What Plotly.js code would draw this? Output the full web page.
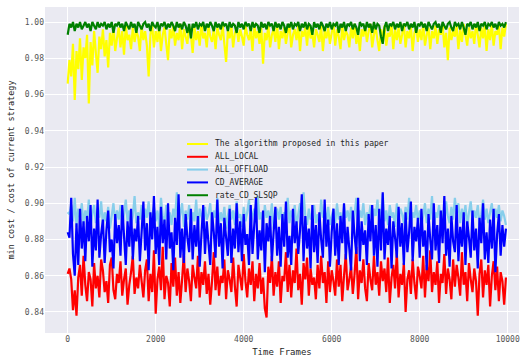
<!DOCTYPE html>
<html>
<head>
<meta charset="utf-8">
<script src="https://cdn.plot.ly/plotly-3.0.1.min.js"></script>
<style>html,body{margin:0;padding:0;background:#fff;}#chart{width:521px;height:360px;}</style>
</head>
<body>
<div id="chart"></div>
<script>
// Values read every 40 frames
var frameStep = 40;

var seriesNames = ["The algorithm proposed in this paper", "ALL_LOCAL", "ALL_OFFLOAD", "CD_AVERAGE", "rate_CD_SLSQP"];
var seriesColors = ["#FFFF00", "#FF0000", "#87CEEB", "#0000FF", "#008000"];

var xTicks = [0, 2000, 4000, 6000, 8000, 10000];
var yTicks = [0.84, 0.86, 0.88, 0.90, 0.92, 0.94, 0.96, 0.98, 1.00];
var yTickLabels = ["0.84", "0.86", "0.88", "0.90", "0.92", "0.94", "0.96", "0.98", "1.00"];

var algorithm = [
0.966,0.979,0.970,0.988,0.957,0.984,0.974,0.991,0.968,0.986,
0.980,0.993,0.955,0.989,0.976,0.995,0.983,0.972,0.992,0.985,
0.996,0.981,0.990,0.975,0.994,0.987,0.998,0.984,0.991,0.997,
0.986,0.995,0.982,0.998,0.990,0.993,0.985,0.997,0.989,0.995,
0.992,0.984,0.998,0.990,0.995,0.987,0.970,0.993,0.998,0.986,
0.995,0.989,0.998,0.984,0.993,0.997,0.988,0.979,0.996,0.991,
0.998,0.987,0.994,0.990,0.999,0.985,0.996,0.992,0.988,0.998,
0.993,0.983,0.997,0.990,0.995,0.987,0.999,0.991,0.994,0.986,
0.998,0.992,0.989,0.996,0.985,0.997,0.993,0.990,0.999,0.988,
0.978,0.995,0.991,0.998,0.986,0.994,0.997,0.989,0.996,0.992,
0.987,0.998,0.993,0.990,0.996,0.984,0.999,0.991,0.995,0.988,
0.997,0.977,0.994,0.990,0.998,0.986,0.993,0.996,0.989,0.999,
0.985,0.995,0.991,0.997,0.988,0.994,0.999,0.986,0.993,0.996,
0.990,0.998,0.984,0.995,0.992,0.997,0.987,0.999,0.991,0.994,
0.986,0.996,0.993,0.989,0.998,0.984,0.995,0.991,0.997,0.988,
0.994,0.999,0.987,0.996,0.992,0.985,0.998,0.990,0.995,0.993,
0.986,0.997,0.991,0.999,0.988,0.994,0.984,0.996,0.992,0.998,
0.989,0.995,0.999,0.986,0.993,0.997,0.990,0.984,0.996,0.991,
0.998,0.987,0.994,0.992,0.999,0.985,0.996,0.990,0.997,0.988,
0.993,0.999,0.986,0.995,0.991,0.998,0.984,0.994,0.997,0.989,
0.996,0.990,0.999,0.987,0.993,0.997,0.985,0.995,0.991,0.998,
0.988,0.996,0.993,0.999,0.986,0.994,0.979,0.997,0.990,0.995,
0.992,0.998,0.985,0.996,0.989,0.999,0.993,0.987,0.997,0.991,
0.995,0.988,0.999,0.993,0.986,0.997,0.991,0.998,0.984,0.996,
0.990,0.999,0.987,0.995,0.993,0.998,0.985,0.997,0.992,0.999
];

var allLocal = [
0.861,0.864,0.858,0.841,0.852,0.838,0.859,0.866,0.849,0.871,
0.855,0.846,0.862,0.858,0.843,0.867,0.853,0.860,0.848,0.869,
0.863,0.851,0.857,0.845,0.866,0.870,0.852,0.847,0.861,0.856,
0.868,0.849,0.858,0.864,0.844,0.855,0.862,0.871,0.850,0.859,
0.853,0.866,0.857,0.848,0.863,0.869,0.846,0.861,0.851,0.874,
0.839,0.858,0.865,0.852,0.876,0.847,0.860,0.856,0.843,0.867,
0.854,0.870,0.849,0.862,0.845,0.858,0.872,0.851,0.864,0.857,
0.846,0.866,0.859,0.853,0.871,0.848,0.862,0.855,0.868,0.850,
0.861,0.844,0.857,0.873,0.852,0.865,0.849,0.860,0.856,0.869,
0.847,0.863,0.858,0.851,0.870,0.854,0.843,0.866,0.859,0.852,
0.872,0.857,0.848,0.864,0.855,0.868,0.846,0.861,0.853,0.867,
0.850,0.859,0.842,0.837,0.865,0.856,0.871,0.849,0.862,0.854,
0.868,0.845,0.860,0.857,0.873,0.851,0.866,0.848,0.863,0.856,
0.875,0.852,0.861,0.844,0.867,0.858,0.870,0.849,0.864,0.855,
0.859,0.847,0.866,0.853,0.871,0.856,0.862,0.845,0.868,0.851,
0.863,0.857,0.849,0.869,0.854,0.866,0.846,0.860,0.872,0.852,
0.858,0.865,0.850,0.861,0.876,0.847,0.863,0.856,0.869,0.853,
0.846,0.867,0.858,0.852,0.871,0.855,0.862,0.849,0.868,0.857,
0.864,0.851,0.870,0.845,0.859,0.866,0.853,0.873,0.848,0.861,
0.855,0.867,0.840,0.858,0.863,0.850,0.869,0.856,0.847,0.865,
0.860,0.853,0.871,0.848,0.866,0.857,0.874,0.851,0.862,0.855,
0.868,0.845,0.861,0.856,0.872,0.850,0.864,0.858,0.847,0.869,
0.854,0.866,0.859,0.849,0.873,0.855,0.862,0.846,0.867,0.858,
0.851,0.864,0.857,0.838,0.861,0.869,0.848,0.863,0.855,0.866,
0.843,0.860,0.868,0.852,0.865,0.846,0.862,0.857,0.844,0.859
];

var allOffload = [
0.895,0.894,0.899,0.890,0.903,0.887,0.897,0.892,0.900,0.888,
0.896,0.891,0.902,0.887,0.894,0.899,0.889,0.897,0.892,0.901,
0.888,0.895,0.890,0.898,0.886,0.893,0.900,0.889,0.896,0.891,
0.899,0.887,0.894,0.902,0.890,0.896,0.888,0.893,0.904,0.889,
0.895,0.891,0.899,0.886,0.897,0.892,0.901,0.888,0.894,0.898,
0.890,0.896,0.887,0.903,0.893,0.889,0.899,0.891,0.895,0.888,
0.897,0.892,0.906,0.889,0.894,0.900,0.887,0.896,0.891,0.899,
0.888,0.895,0.890,0.902,0.886,0.897,0.893,0.889,0.898,0.891,
0.894,0.900,0.887,0.896,0.892,0.903,0.889,0.895,0.890,0.898,
0.886,0.893,0.899,0.891,0.896,0.888,0.901,0.892,0.894,0.887,
0.898,0.890,0.895,0.902,0.888,0.893,0.897,0.889,0.904,0.891,
0.895,0.887,0.899,0.892,0.896,0.890,0.900,0.886,0.894,0.897,
0.891,0.898,0.888,0.895,0.893,0.903,0.889,0.896,0.892,0.899,
0.887,0.894,0.900,0.890,0.906,0.893,0.888,0.897,0.891,0.895,
0.899,0.889,0.894,0.887,0.902,0.892,0.896,0.890,0.898,0.888,
0.893,0.897,0.889,0.900,0.891,0.895,0.887,0.899,0.892,0.896,
0.890,0.898,0.886,0.894,0.903,0.889,0.896,0.892,0.900,0.888,
0.895,0.891,0.899,0.887,0.897,0.893,0.902,0.889,0.894,0.905,
0.890,0.896,0.888,0.899,0.892,0.895,0.887,0.900,0.891,0.897,
0.894,0.889,0.898,0.891,0.903,0.887,0.895,0.892,0.899,0.890,
0.896,0.888,0.893,0.900,0.889,0.897,0.891,0.904,0.887,0.895,
0.892,0.899,0.890,0.896,0.888,0.901,0.893,0.889,0.898,0.891,
0.903,0.894,0.900,0.889,0.897,0.892,0.899,0.887,0.895,0.901,
0.890,0.896,0.892,0.899,0.888,0.894,0.902,0.891,0.897,0.889,
0.895,0.900,0.888,0.897,0.892,0.899,0.890,0.896,0.893,0.888
];

var cdAverage = [
0.884,0.881,0.903,0.872,0.860,0.889,0.866,0.897,0.875,0.890,
0.868,0.893,0.879,0.899,0.865,0.886,0.874,0.902,0.870,0.883,
0.891,0.867,0.885,0.896,0.873,0.880,0.864,0.894,0.878,0.888,
0.871,0.899,0.882,0.866,0.890,0.876,0.897,0.869,0.886,0.879,
0.893,0.868,0.884,0.901,0.874,0.889,0.863,0.895,0.880,0.904,
0.872,0.887,0.866,0.898,0.878,0.891,0.869,0.900,0.875,0.884,
0.863,0.892,0.877,0.905,0.870,0.886,0.867,0.894,0.881,0.873,
0.897,0.869,0.888,0.876,0.893,0.865,0.883,0.899,0.872,0.890,
0.878,0.866,0.895,0.884,0.870,0.902,0.876,0.889,0.864,0.892,
0.881,0.871,0.897,0.867,0.886,0.875,0.900,0.873,0.890,0.868,
0.894,0.877,0.883,0.866,0.899,0.872,0.888,0.903,0.869,0.885,
0.874,0.896,0.862,0.889,0.879,0.893,0.868,0.884,0.898,0.871,
0.887,0.865,0.894,0.876,0.901,0.870,0.882,0.866,0.897,0.878,
0.890,0.872,0.885,0.905,0.868,0.893,0.875,0.886,0.864,0.899,
0.873,0.888,0.867,0.895,0.880,0.870,0.902,0.876,0.891,0.865,
0.884,0.897,0.871,0.889,0.866,0.893,0.878,0.900,0.869,0.887,
0.875,0.863,0.896,0.882,0.872,0.903,0.868,0.890,0.877,0.885,
0.866,0.894,0.879,0.899,0.871,0.888,0.865,0.897,0.874,0.906,
0.869,0.886,0.877,0.893,0.864,0.890,0.881,0.870,0.898,0.876,
0.889,0.866,0.895,0.873,0.884,0.901,0.868,0.887,0.879,0.892,
0.870,0.897,0.876,0.885,0.863,0.894,0.880,0.869,0.900,0.874,
0.888,0.867,0.896,0.878,0.904,0.871,0.886,0.865,0.893,0.879,
0.873,0.899,0.868,0.887,0.876,0.895,0.866,0.890,0.881,0.870,
0.896,0.874,0.886,0.864,0.892,0.878,0.900,0.869,0.884,0.867,
0.891,0.875,0.897,0.862,0.883,0.894,0.871,0.888,0.876,0.886
];

var rateCdSlsqp = [
0.993,0.999,0.997,1.000,0.995,0.999,0.997,1.000,0.996,0.998,
1.000,0.997,0.999,0.995,1.000,0.998,0.996,1.000,0.997,0.999,
0.998,1.000,0.996,0.999,0.997,1.000,0.994,0.999,0.998,1.000,
0.997,0.999,0.995,1.000,0.998,0.996,1.000,0.997,0.999,0.994,
1.000,0.998,0.996,0.999,1.000,0.997,0.999,0.995,1.000,0.998,
0.997,1.000,0.995,0.999,0.998,1.000,0.996,0.999,0.997,1.000,
0.998,0.995,1.000,0.997,0.999,0.996,1.000,0.998,0.994,0.999,
0.991,0.999,0.997,1.000,0.996,0.999,0.998,1.000,0.995,0.999,
0.997,1.000,0.998,0.995,1.000,0.997,0.999,0.996,1.000,0.998,
0.999,0.995,1.000,0.997,0.999,0.998,0.994,1.000,0.997,0.999,
0.996,1.000,0.998,0.999,0.995,1.000,0.997,0.999,0.998,0.994,
1.000,0.997,0.999,0.996,1.000,0.998,0.999,0.995,1.000,0.997,
0.999,0.996,1.000,0.998,0.994,0.999,0.997,1.000,0.996,0.999,
0.998,1.000,0.995,0.999,0.997,1.000,0.996,0.999,0.998,0.993,
1.000,0.997,0.999,0.996,1.000,0.998,0.995,0.999,0.997,1.000,
0.996,0.999,0.998,1.000,0.994,0.999,0.997,1.000,0.995,0.999,
0.998,1.000,0.996,0.999,0.997,0.993,1.000,0.998,0.999,0.995,
1.000,0.997,0.999,0.994,1.000,0.996,0.999,0.998,0.992,0.988,
0.997,1.000,0.995,0.999,0.998,1.000,0.996,0.999,0.997,1.000,
0.995,0.999,0.998,1.000,0.996,0.999,0.997,1.000,0.994,0.999,
0.998,1.000,0.997,0.999,0.995,1.000,0.998,0.996,0.999,1.000,
0.997,0.999,0.994,1.000,0.998,0.996,0.999,1.000,0.997,0.995,
1.000,0.998,0.999,0.996,1.000,0.997,0.993,0.999,0.998,1.000,
0.996,0.999,0.997,1.000,0.995,0.999,0.998,1.000,0.996,0.999,
0.998,1.000,0.997,0.999,0.996,1.000,0.998,0.999,0.997,1.000
];

var seriesValues = [algorithm, allLocal, allOffload, cdAverage, rateCdSlsqp];

var frames = algorithm.map(function (_, i) { return i * frameStep; });

var traces = seriesValues.map(function (vals, k) {
  return {
    x: frames,
    y: vals,
    type: "scatter",
    mode: "lines",
    name: seriesNames[k],
    showlegend: false,
    line: { color: seriesColors[k], width: 2.2, simplify: false }
  };
});

var monoFont = "DejaVu Sans Mono, monospace";

// Legend drawn in the plot area (transparent, like the reference)
var legendX0 = 0.2996, legendX1 = 0.3439, legendTextX = 0.3544;
var legendTop = 0.5798, legendStep = 0.0393;
var shapes = [], annotations = [];
seriesNames.forEach(function (nm, k) {
  var yy = legendTop - k * legendStep;
  shapes.push({ type: "line", xref: "paper", yref: "paper", x0: legendX0, x1: legendX1, y0: yy, y1: yy,
                line: { color: seriesColors[k], width: 2 } });
  annotations.push({ xref: "paper", yref: "paper", x: legendTextX, y: yy, xanchor: "left", yanchor: "middle",
                     text: nm, showarrow: false, font: { family: monoFont, size: 8, color: "#262626" } });
});

var layout = {
  width: 521,
  height: 360,
  paper_bgcolor: "#FFFFFF",
  plot_bgcolor: "#EAEAF2",
  margin: { l: 45, r: 2, t: 7, b: 27 },
  showlegend: false,
  shapes: shapes,
  annotations: annotations,
  xaxis: {
    range: [-516, 10257],
    tickvals: xTicks,
    ticktext: xTicks.map(String),
    ticklabeloverflow: "allow",
    showgrid: true, gridcolor: "#FFFFFF", gridwidth: 1,
    zeroline: false, showline: false, ticks: "",
    tickfont: { family: monoFont, size: 8, color: "#555555" },
    title: { text: "Time Frames", font: { family: monoFont, size: 9, color: "#262626" }, standoff: 5 }
  },
  yaxis: {
    range: [0.8284, 1.0083],
    tickvals: yTicks,
    ticktext: yTickLabels,
    showgrid: true, gridcolor: "#FFFFFF", gridwidth: 1,
    zeroline: false, showline: false, ticks: "",
    tickfont: { family: monoFont, size: 8, color: "#555555" },
    title: { text: "min cost / cost of current strategy", font: { family: monoFont, size: 8.5, color: "#262626" }, standoff: 8 }
  }
};

Plotly.newPlot("chart", traces, layout, { displayModeBar: false, staticPlot: true });
</script>
</body>
</html>
